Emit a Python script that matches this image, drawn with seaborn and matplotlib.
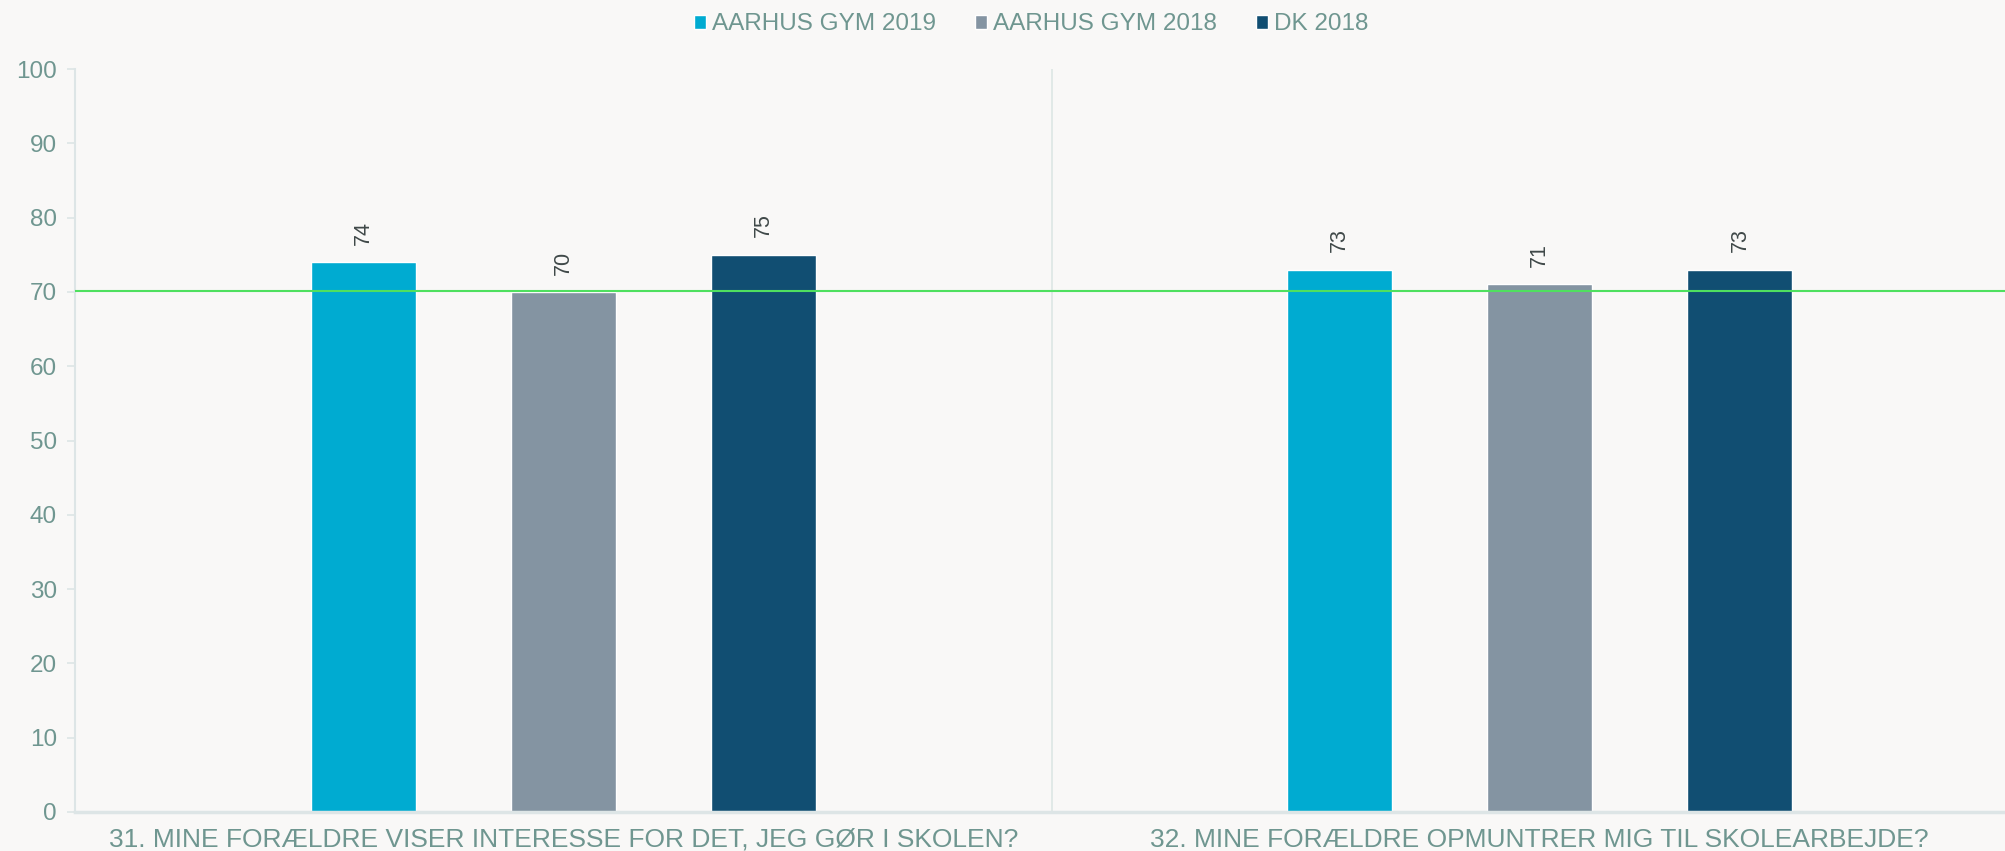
import pandas as pd
import matplotlib.pyplot as plt
import seaborn as sns

questions = ['31. MINE FORÆLDRE VISER INTERESSE FOR DET, JEG GØR I SKOLEN?',
             '32. MINE FORÆLDRE OPMUNTRER MIG TIL SKOLEARBEJDE?']
series = ['AARHUS GYM 2019', 'AARHUS GYM 2018', 'DK 2018']
aarhus_2019 = [74, 73]
aarhus_2018 = [70, 71]
dk_2018 = [75, 73]
reference_line = 70.1
colors = ['#00abd1', '#8494a2', '#114e72']

bg = '#f9f8f7'
text_col = '#6f9690'
axis_col = '#dde5e6'

sns.set_style('white')
plt.rcParams['font.family'] = ['Liberation Sans', 'DejaVu Sans']

df = pd.DataFrame({
    'question': questions * 3,
    'series': [s for s in series for _ in questions],
    'value': aarhus_2019 + aarhus_2018 + dk_2018,
})

fig = plt.figure(figsize=(20.06, 8.51), dpi=100, facecolor=bg)
ax = fig.add_axes([75 / 2006, 1 - 812 / 851, 1953 / 2006, (812 - 69) / 851])
ax.set_facecolor(bg)

sns.barplot(data=df, x='question', y='value', hue='series', hue_order=series,
            palette=colors, saturation=1, width=0.615, gap=0.475, ax=ax)

for c in ax.containers:
    ax.bar_label(c, fmt='%d', rotation=90, padding=12.5, fontsize=15.5, color='#3f4848')

ax.axhline(reference_line, color='#4fe05f', lw=1.5, zorder=5)
ax.axvline(0.5, color='#dde7e4', lw=1.2, zorder=0)

ax.set_xlim(-0.5, 1.5)
ax.set_ylim(0, 100)
ax.set_yticks(range(0, 101, 10))
ax.set_xlabel('')
ax.set_ylabel('')

for s in ['top', 'right']:
    ax.spines[s].set_visible(False)
ax.spines['left'].set_color(axis_col)
ax.spines['left'].set_linewidth(1.5)
ax.spines['bottom'].set_color(axis_col)
ax.spines['bottom'].set_linewidth(2.5)

ax.tick_params(axis='y', left=True, length=6, width=1.2, color=axis_col,
               labelsize=17.5, labelcolor=text_col, pad=7)
ax.tick_params(axis='x', length=0, labelsize=19, labelcolor=text_col, pad=11.5)

handles, labels = ax.get_legend_handles_labels()
ax.get_legend().remove()
fig.legend(handles, labels, loc='upper center', bbox_to_anchor=(1031 / 2006, 1.0),
           ncol=3, frameon=False, fontsize=17.5, labelcolor=text_col,
           handlelength=0.5, handleheight=0.5, handletextpad=0.25,
           columnspacing=1.6, borderaxespad=0.15)

fig.savefig('out.png', dpi=100, facecolor=bg)
